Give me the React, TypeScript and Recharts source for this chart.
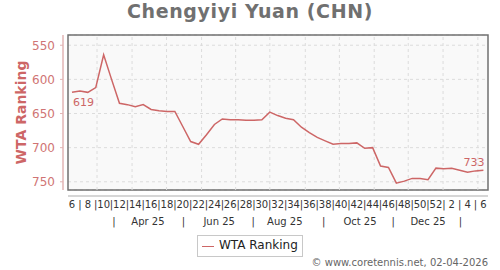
import { LineChart, Line, XAxis, YAxis, CartesianGrid, ReferenceLine, ReferenceArea } from 'recharts'

// ISO week numbers, Feb 2025 -> Feb 2026
const weekLabels = [
  6, 7, 8, 9, 10, 11, 12, 13, 14, 15, 16, 17, 18, 19, 20, 21, 22, 23, 24, 25, 26, 27, 28, 29,
  30, 31, 32, 33, 34, 35, 36, 37, 38, 39, 40, 41, 42, 43, 44, 45, 46, 47, 48, 49, 50, 51, 52,
  1, 2, 3, 4, 5, 6,
]

const ranks = [
  619, 617, 619, 612, 564, 600, 635, 637, 640, 637, 644, 646, 647, 647, 669, 691, 695, 681, 666,
  658, 659, 659, 660, 660, 659, 648, 653, 657, 659, 670, 678, 685, 690, 695, 694, 694, 693, 701,
  700, 727, 729, 752, 749, 745, 745, 747, 730, 731, 730, 733, 736, 734, 733,
]

// month row below the week numbers (positions in week-index units)
const monthPos = [5.3, 9.6, 14.1, 18.6, 22.9, 26.9, 31.8, 36.4, 40.6, 45.0, 49.1]
const monthLabels = ['|', 'Apr 25', '|', 'Jun 25', '|', 'Aug 25', '|', 'Oct 25', '|', 'Dec 25', '|']

// monthly vertical grid lines
const gridPos = [3.16, 7.59, 11.95, 16.38, 20.68, 25.0, 29.49, 33.8, 38.2, 42.5, 46.9, 51.3]

const yTicks = [550, 600, 650, 700, 750]
const yDomain: [number, number] = [535, 762]

const data = ranks.map((rank, i) => ({ i, week: weekLabels[i], rank }))
const weekTicks = weekLabels.map((_, i) => i)

const RED = '#cd6666'
const FONT = '"DejaVu Sans", Verdana, sans-serif'

function EndLabel(props: any) {
  const { x, y, value, index } = props
  if (index === 0) {
    return (
      <text x={x + 1} y={y + 14} fill={RED} fontSize={11} fontFamily={FONT}>
        {value}
      </text>
    )
  }
  if (index === ranks.length - 1) {
    return (
      <text x={x + 1} y={y - 4} fill={RED} fontSize={11} fontFamily={FONT} textAnchor="end">
        {value}
      </text>
    )
  }
  return null
}

function YTitle(props: any) {
  const vb = props.viewBox
  const cx = vb.x + 21
  const cy = vb.y + vb.height / 2
  return (
    <text x={cx} y={cy} transform={`rotate(-90 ${cx} ${cy})`} textAnchor="middle" dominantBaseline="central"
      fill={RED} fontSize={14} fontWeight="bold" fontFamily={FONT}>
      WTA Ranking
    </text>
  )
}

export default function App() {
  return (
    <div style={{ position: 'absolute', left: 0, top: 0, width: 500, height: 270, background: '#fff', fontFamily: FONT }}>
      <div style={{ position: 'absolute', left: 0, top: 0, width: 500, textAlign: 'center', fontSize: 19, letterSpacing: 0.6, fontWeight: 'bold', color: '#707070' }}>
        Chengyiyi Yuan (CHN)
      </div>
      <LineChart width={500} height={270} data={data} margin={{ top: 35, right: 12, bottom: 38, left: 0 }}>
        <XAxis xAxisId={1} dataKey="i" type="number" domain={[0, 52]} tick={false} axisLine={false} tickLine={false} height={6} />
        <XAxis xAxisId={2} dataKey="i" type="number" domain={[0, 52]} ticks={weekTicks} interval={0}
          padding={{ left: 4, right: 4.6 }} height={16} tickSize={0} tickMargin={5}
          axisLine={{ stroke: '#c8c8c8', strokeWidth: 1.5 }} tickLine={false}
          tick={{ fill: '#333', fontSize: 10, fontFamily: FONT }}
          tickFormatter={(v: number) => (weekLabels[v] % 2 === 0 ? String(weekLabels[v]) : '|')} />
        <XAxis xAxisId={3} dataKey="i" type="number" domain={[0, 52]} ticks={monthPos} interval={0}
          padding={{ left: 4, right: 4.6 }} height={20} tickSize={0} tickMargin={6}
          axisLine={false} tickLine={false}
          tick={{ fill: '#333', fontSize: 10, fontFamily: FONT }}
          tickFormatter={(v: number) => monthLabels[monthPos.indexOf(v)]} />
        <YAxis yAxisId={1} type="number" domain={yDomain} reversed tick={false} axisLine={false} tickLine={false} width={5} />
        <YAxis yAxisId={2} type="number" domain={yDomain} reversed ticks={yTicks} interval={0} width={63}
          tickSize={3} tickMargin={5}
          axisLine={{ stroke: '#e2b4b4', strokeWidth: 1.5 }} tickLine={{ stroke: '#e2b4b4' }}
          tick={{ fill: '#d07474', fontSize: 12, fontFamily: FONT }}
          label={{ content: YTitle }} />
        <CartesianGrid xAxisId={2} yAxisId={2} vertical={false} fill="#f9f9f9" stroke="#dcdcdc" strokeDasharray="3 3" />
        {gridPos.map((g) => (
          <ReferenceLine key={g} xAxisId={2} yAxisId={2} x={g} stroke="#dcdcdc" strokeDasharray="3 3" />
        ))}
        <ReferenceArea xAxisId={1} yAxisId={2} x1={0} x2={52} y1={yDomain[0]} y2={yDomain[1]} ifOverflow="visible"
          fill="none" stroke="#707070" strokeWidth={1.5} />
        <Line xAxisId={2} yAxisId={2} type="linear" dataKey="rank" stroke={RED} strokeWidth={1.5}
          dot={false} isAnimationActive={false} label={EndLabel} />
      </LineChart>
      <div style={{ position: 'absolute', left: 197, top: 235, width: 104, height: 20, border: '1px solid #c8c8c8', background: '#fff', boxSizing: 'content-box' }}>
        <div style={{ position: 'absolute', left: 4, top: 10, width: 12, height: 0, borderTop: `1.5px solid ${RED}` }} />
        <div style={{ position: 'absolute', left: 21, top: 2, fontSize: 12, color: '#222', whiteSpace: 'nowrap' }}>WTA Ranking</div>
      </div>
      <div style={{ position: 'absolute', right: 12, top: 257, fontSize: 10, color: '#666', whiteSpace: 'nowrap' }}>
        © www.coretennis.net, 02-04-2026
      </div>
    </div>
  )
}
